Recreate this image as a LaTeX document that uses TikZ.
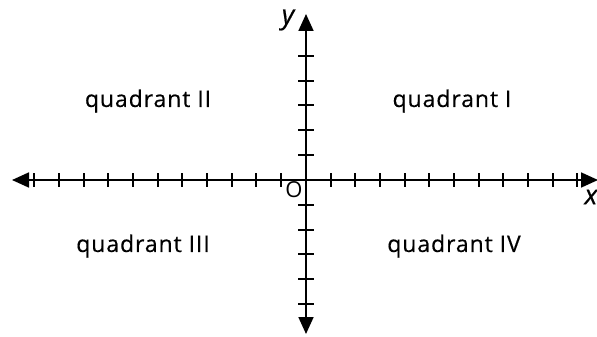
\documentclass[tikz,border=0pt]{standalone}
\usepackage{fontspec}
\setmainfont{Open Sans}
\newfontfamily\quadfont[LetterSpace=4,FakeBold=0.4]{Open Sans}
\newfontfamily\labfont[FakeBold=0.6]{Open Sans}
\usetikzlibrary{arrows.meta}
\begin{document}
\begin{tikzpicture}[x=1pt,y=-1pt,
  axis/.style={line width=1.8pt,-{Triangle[length=17pt,width=15pt]}},
  tickmark/.style={line width=1.4pt},
  quad/.style={font=\quadfont\fontsize{23}{26}\selectfont, inner sep=0pt},
  axlabel/.style={font=\labfont\fontsize{27}{29}\selectfont\itshape, inner sep=0pt}]
\useasboundingbox (0,0) rectangle (597,337);
\coordinate (O) at (306,180);
\coordinate (xl) at (12,180);
\coordinate (xr) at (598,180);
\coordinate (yt) at (306,14);
\coordinate (yb) at (306,334);
\draw[axis] (O) -- (xl);
\draw[axis] (O) -- (xr);
\draw[axis] (O) -- (yt);
\draw[axis] (O) -- (yb);
\foreach \p in {34,59,84,108,133,158,182,207,232,256,281,331,355,380,405,429,454,479,503,528,553,577}{
  \draw[tickmark] (\p,173) -- (\p,187);
}
\foreach \p in {56,81,105,130,155,205,230,254,279,304}{
  \draw[tickmark] (298,\p) -- (314,\p);
}
\node[quad] (q2) at (148,101) {quadrant II};
\node[quad] (q1) at (452,101) {quadrant I};
\node[quad] (q3) at (143,246) {quadrant III};
\node[quad] (q4) at (454,246) {quadrant IV};
\node[axlabel] (ylab) at (288,20) {y};
\node[axlabel] (xlab) at (591,197) {x};
\node[font=\fontsize{22}{24}\selectfont, inner sep=0pt] (olab) at (294,190) {O};
\end{tikzpicture}
\end{document}
